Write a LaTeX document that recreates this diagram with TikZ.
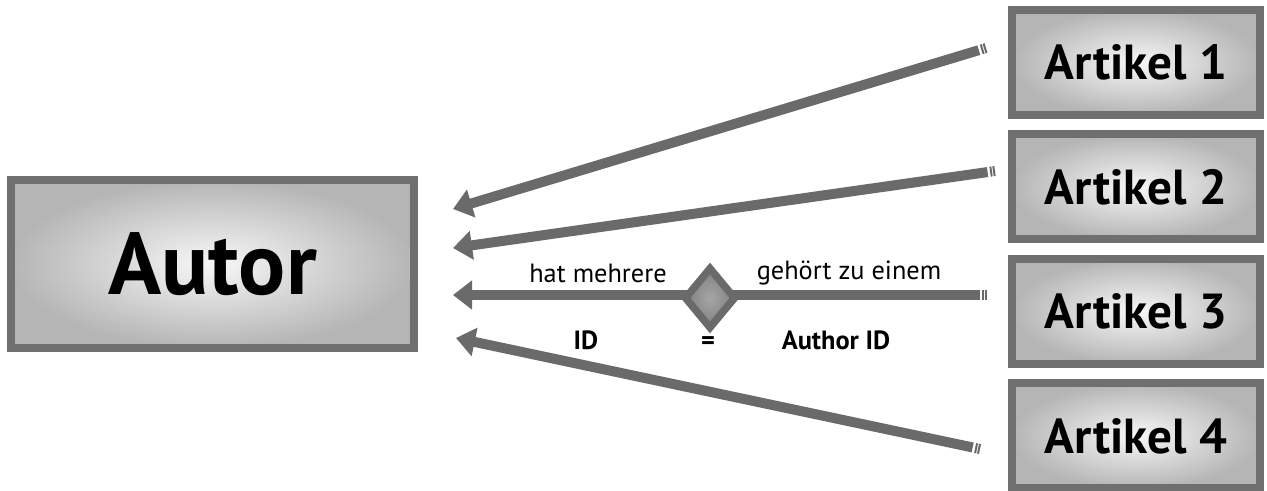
\documentclass[tikz,border=0pt]{standalone}
\usepackage{fontspec}
\setmainfont{PT Sans}
\usetikzlibrary{positioning,arrows.meta,shapes.geometric}
\definecolor{rimgray}{HTML}{6F6F6F}
\definecolor{linkgray}{HTML}{6A6A6A}
\definecolor{fillgray}{HTML}{B5B5B5}
\begin{document}
\begin{tikzpicture}[x=0.02cm, y=-0.02cm, node distance=0.23cm,
                    entity/.style={rectangle, draw=rimgray, line width=1.6mm, shading=radial, inner color=white!97!black, outer color=fillgray},
                    artikel/.style={entity, minimum width=4.96cm, minimum height=2.1cm, font=\fontsize{28}{32}\selectfont\bfseries},
                    link/.style={draw=linkgray, line width=2mm, -{Triangle[length=3.8mm, width=5.6mm]}, dash pattern=on 0.4mm off 0.2mm on 0.4mm off 0.5mm on 40cm off 1mm},
                    rel/.style={diamond, draw=linkgray, line width=1.5mm, shading=radial, inner color=gray!70, outer color=gray!100, minimum width=1.04cm, minimum height=1.24cm, inner sep=0pt},
                    note/.style={font=\fontsize{15}{18}\selectfont},
                    key/.style={font=\fontsize{15}{18}\selectfont\bfseries}]
\useasboundingbox (0,0) rectangle (1267,490);

\node[entity, minimum width=8.06cm, minimum height=3.36cm, font=\fontsize{50}{56}\selectfont\bfseries] (autor) at (212.5,264) {Autor};

\node[artikel] (art1) at (1136,62.5) {Artikel 1};
\node[artikel, below=of art1] (art2) {Artikel 2};
\node[artikel, below=of art2] (art3) {Artikel 3};
\node[artikel, below=of art3] (art4) {Artikel 4};

% arrow ends
\coordinate (t1) at (986,48);
\coordinate (t2) at (995,171);
\coordinate (t3) at (987,295);
\coordinate (t4) at (980,449);
\coordinate (h1) at (453,209);
\coordinate (h2) at (453,248);
\coordinate (h3) at (453,295);
\coordinate (h4) at (456,338);

\draw[link] (t1) -- (h1);
\draw[link] (t2) -- (h2);
\draw[link] (t3) -- (h3);
\draw[link] (t4) -- (h4);

\node[rel] (has) at (710,298) {};

\node[note] (many) at (598,273) {hat mehrere};
\node[note] (one) at (849,273) {gehört zu einem};
\node[key] (id) at (586,340) {ID};
\node[key] (eq) at (708,343) {=};
\node[key] (aid) at (836,340) {Author ID};
\end{tikzpicture}
\end{document}
